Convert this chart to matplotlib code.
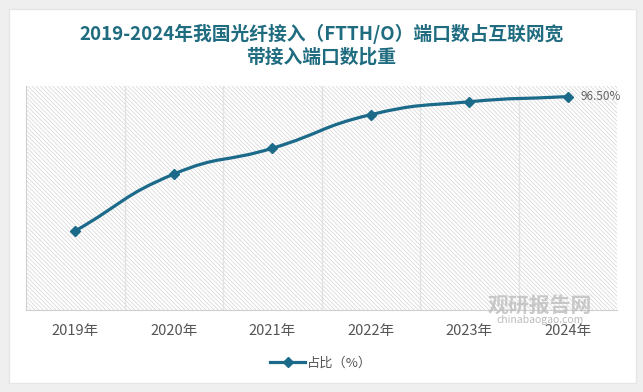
import numpy as np
import matplotlib
matplotlib.use('Agg')
import matplotlib.pyplot as plt
from matplotlib.path import Path
from matplotlib.patches import PathPatch, Rectangle

plt.rcParams['font.family'] = ['Noto Sans CJK SC', 'DejaVu Sans']
plt.rcParams['hatch.color'] = '#d4d4d4'
plt.rcParams['hatch.linewidth'] = 0.5

# data
years = ['2019年', '2020年', '2021年', '2022年', '2023年', '2024年']
share = [91.3, 93.5, 94.5, 95.8, 96.3, 96.5]
series_name = '占比（%）'
title = '2019-2024年我国光纤接入（FTTH/O）端口数占互联网宽\n带接入端口数比重'

line_color = '#1b6a8a'
title_color = '#1f6b7f'


# smooth curve like echarts: control points weighted by pixel distances
def smooth_path(xs, ys, sx, sy, smooth=0.5):
    pts = np.column_stack([np.asarray(xs) * sx, np.asarray(ys) * sy]).astype(float)
    n = len(pts)
    cps = []
    for i in range(n):
        prev = pts[i - 1] if i > 0 else pts[i]
        nxt = pts[i + 1] if i < n - 1 else pts[i]
        v = nxt - prev
        d0 = np.hypot(*(pts[i] - prev))
        d1 = np.hypot(*(pts[i] - nxt))
        tot = d0 + d1
        if tot > 0:
            d0, d1 = d0 / tot, d1 / tot
        cps.append((pts[i] - v * smooth * d0, pts[i] + v * smooth * d1))
    verts = [pts[0]]
    codes = [Path.MOVETO]
    for i in range(n - 1):
        verts += [cps[i][1], cps[i + 1][0], pts[i + 1]]
        codes += [Path.CURVE4] * 3
    verts = np.array(verts) / [sx, sy]
    return Path(verts, codes)


fig = plt.figure(figsize=(6.43, 3.92), dpi=100)
fig.patch.set_facecolor('#efefef')

# white card
card = Rectangle((9 / 643, 9 / 392), 627 / 643, 374 / 392,
                 transform=fig.transFigure, facecolor='white',
                 edgecolor='#e6e6e6', lw=1, zorder=-5)
fig.patches.append(card)

fig.text(0.5, 1 - 45.5 / 392, title, ha='center', va='center', fontsize=13.5,
         fontweight='bold', color=title_color, linespacing=1.22)

ax = fig.add_axes([26 / 643, 82 / 392, 591 / 643, 224 / 392])
ax.set_zorder(2)
ax.set_facecolor('none')
x = np.arange(len(years))
ax.set_xlim(-0.5, len(years) - 0.5)
ax.set_ylim(88.24, 96.91)

# hatched background
ax.add_patch(Rectangle((0, 0), 1, 1, transform=ax.transAxes, facecolor='white',
                       edgecolor='#d4d4d4', hatch='\\' * 8, lw=0, zorder=0))

for b in np.arange(0.5, len(years) - 0.5, 1):
    ax.axvline(b, color='#e2e2e2', lw=1, zorder=1)

# pixel scale of the axes, for the smoothing
bbox = ax.get_window_extent()
sx = bbox.width / np.diff(ax.get_xlim())[0]
sy = bbox.height / np.diff(ax.get_ylim())[0]
ax.add_patch(PathPatch(smooth_path(x, share, sx, sy), facecolor='none',
                       edgecolor=line_color, lw=2.3, zorder=3, capstyle='round'))
ax.plot(x, share, linestyle='none', marker='D', markersize=5.5,
        color=line_color, zorder=4)
# legend handle
ax.plot([], [], color=line_color, lw=2.3, marker='D', markersize=5.5,
        label=series_name)

ax.annotate(f'{share[-1]:.2f}%', (x[-1], share[-1]), xytext=(9, 0),
            textcoords='offset points', va='center', ha='left',
            fontsize=8.5, color='#666666')

for s in ['top', 'right']:
    ax.spines[s].set_visible(False)
ax.spines['left'].set_color('#cfcfcf')
ax.spines['bottom'].set_color('#cfcfcf')
ax.set_yticks([])
ax.set_xticks(x)
ax.set_xticklabels(years, fontsize=10.5, color='#555555')
ax.tick_params(axis='x', length=0, pad=10)

# watermark
fig.text(540 / 643, 1 - 305 / 392, '观研报告网', ha='center', va='center',
         fontsize=15, fontweight='bold', color='#bdbdbd', alpha=0.8, zorder=5)
fig.text(540 / 643, 1 - 320 / 392, 'chinabaogao.com', ha='center', va='center',
         fontsize=7.5, color='#aaaaaa', alpha=0.8, zorder=5)

fig.legend(loc='center', bbox_to_anchor=(0.5, 1 - 363 / 392), frameon=False,
           fontsize=9.5, handlelength=2.6, labelcolor='#555555',
           handletextpad=0.2)

fig.savefig('out.png', dpi=100, facecolor=fig.get_facecolor())
